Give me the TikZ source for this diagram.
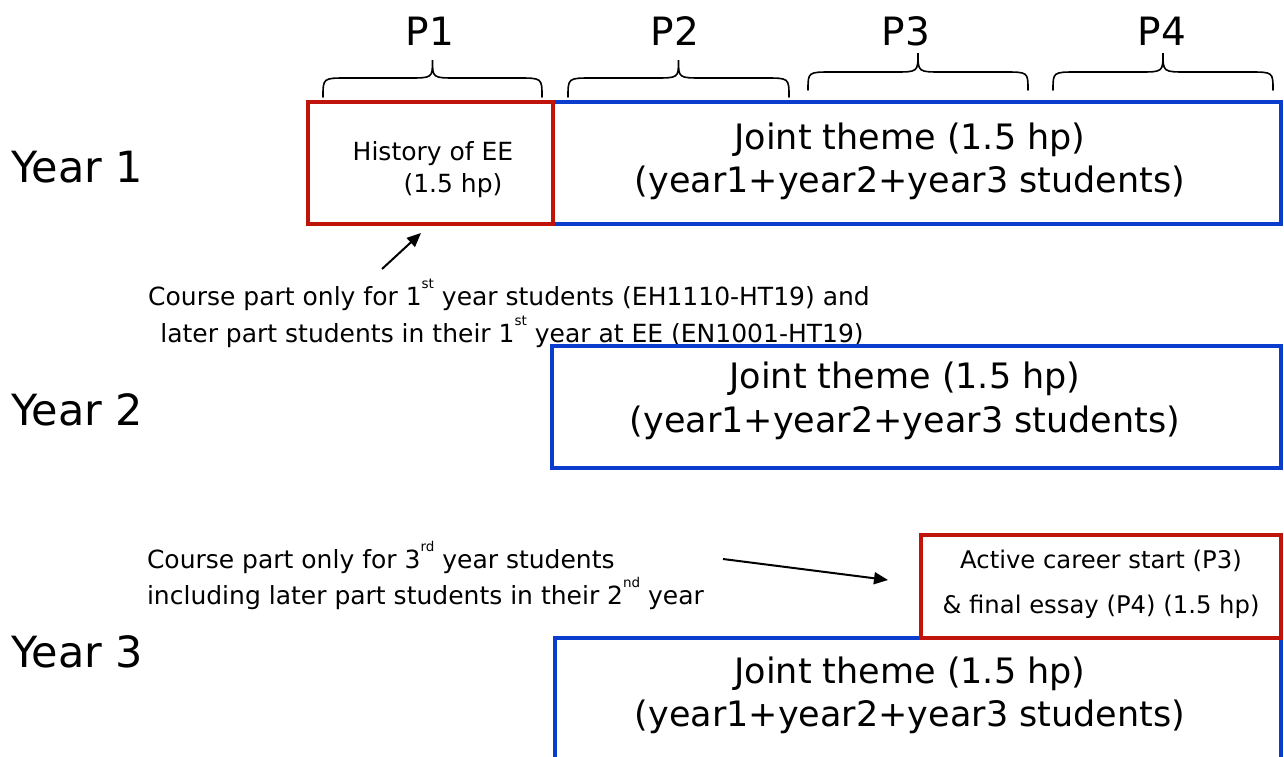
\documentclass[tikz,border=0pt]{standalone}
\usepackage{fontspec}
\setmainfont{DejaVu Sans}
\usetikzlibrary{arrows.meta}
\definecolor{boxred}{RGB}{192,20,10}
\definecolor{boxblue}{RGB}{10,60,205}
\newcommand{\fsz}[1]{\fontsize{#1}{#1}\selectfont}
\newcommand{\sps}[1]{\raisebox{17pt}{\fsz{13.5}#1}}
\newcommand{\pbrace}[5]{%
  \draw[pbrace] (#1,#3) .. controls (#1,#4) and (#1,#4) .. ({#1+24},#4)
    -- ({(#1+#2)/2-24},#4) .. controls ({(#1+#2)/2},#4) and ({(#1+#2)/2},#4) .. ({(#1+#2)/2},#5)
    .. controls ({(#1+#2)/2},#4) and ({(#1+#2)/2},#4) .. ({(#1+#2)/2+24},#4)
    -- ({#2-24},#4) .. controls (#2,#4) and (#2,#4) .. (#2,#3);}
\begin{document}
\begin{tikzpicture}[x=1pt,y=-1pt,
  txt/.style={inner sep=0pt, outer sep=0pt, anchor=base},
  plabel/.style={txt, font=\fsz{39}},
  yr/.style={txt, anchor=base west, font=\fsz{43}},
  joint/.style={txt, font=\fsz{35}},
  small/.style={txt, font=\fsz{25}},
  boxtxt/.style={txt, font=\fsz{24.3}},
  note/.style={txt, font=\fsz{25}},
  notel/.style={note, anchor=base west},
  redbox/.style={draw=boxred, line width=4pt, inner sep=0pt, outer sep=0pt, anchor=north west},
  bluebox/.style={draw=boxblue, line width=4pt, inner sep=0pt, outer sep=0pt, anchor=north west},
  pbrace/.style={line width=1.6pt, line cap=round},
  arr/.style={line width=2pt, -{Triangle[length=14pt,width=12pt]}}
]
\useasboundingbox (0,0) rectangle (1284,756);
\clip (0,0) rectangle (1284,756);
\fill[white] (0,0) rectangle (1284,756);

% period labels
\node[plabel] (p1) at (430,45) {P1};
\node[plabel] (p2) at (675,45) {P2};
\node[plabel] (p3) at (906,45) {P3};
\node[plabel] (p4) at (1162,45) {P4};
\pbrace{323}{542}{97}{78}{60}
\pbrace{568}{789}{97}{78}{60}
\pbrace{808}{1028}{90}{72}{53}
\pbrace{1053}{1273}{90}{72}{53}

% year labels
\node[yr] (y1) at (11,182) {Year 1};
\node[yr] (y2) at (11,425) {Year 2};
\node[yr] (y3) at (11,667) {Year 3};

% year 1
\node[bluebox, minimum width=728pt, minimum height=122pt] (j1) at (553,102) {};
\node[redbox, minimum width=245pt, minimum height=122pt] (hist) at (308,102) {};
\node[small] (h1) at (433,160) {History of EE};
\node[small] (h2) at (453,192) {(1.5 hp)};
\node[joint] (j1a) at (910,149) {Joint theme (1.5 hp)};
\node[joint] (j1b) at (910,192) {(year1+year2+year3 students)};

% note 1
\coordinate (a1s) at (382,269);
\coordinate (a1e) at (421,233);
\draw[arr] (a1s) -- (a1e);
\node[note] (n1a) at (509,305) {Course part only for 1\sps{st} year students (EH1110-HT19) and};
\node[note] (n1b) at (512,342) {later part students in their 1\sps{st} year at EE (EN1001-HT19)};

% year 2
\node[bluebox, minimum width=729pt, minimum height=122pt] (j2) at (552,346) {};
\node[joint] (j2a) at (905,388) {Joint theme (1.5 hp)};
\node[joint] (j2b) at (905,432) {(year1+year2+year3 students)};

% year 3
\node[bluebox, minimum width=726pt, minimum height=200pt] (j3) at (555,638) {};
\node[redbox, fill=white, minimum width=360pt, minimum height=103pt] (acs) at (921,535) {};
\node[boxtxt] (c1) at (1101,568) {Active career start (P3)};
\node[boxtxt] (c2) at (1101,613) {\& final essay (P4) (1.5 hp)};
\node[joint] (j3a) at (910,683) {Joint theme (1.5 hp)};
\node[joint] (j3b) at (910,726) {(year1+year2+year3 students)};

% note 3
\node[notel] (n3a) at (147,568) {Course part only for 3\sps{rd} year students};
\node[notel] (n3b) at (147,604) {including later part students in their 2\sps{nd} year};
\coordinate (a3s) at (723,559);
\coordinate (a3e) at (888,580);
\draw[arr] (a3s) -- (a3e);
\end{tikzpicture}
\end{document}
